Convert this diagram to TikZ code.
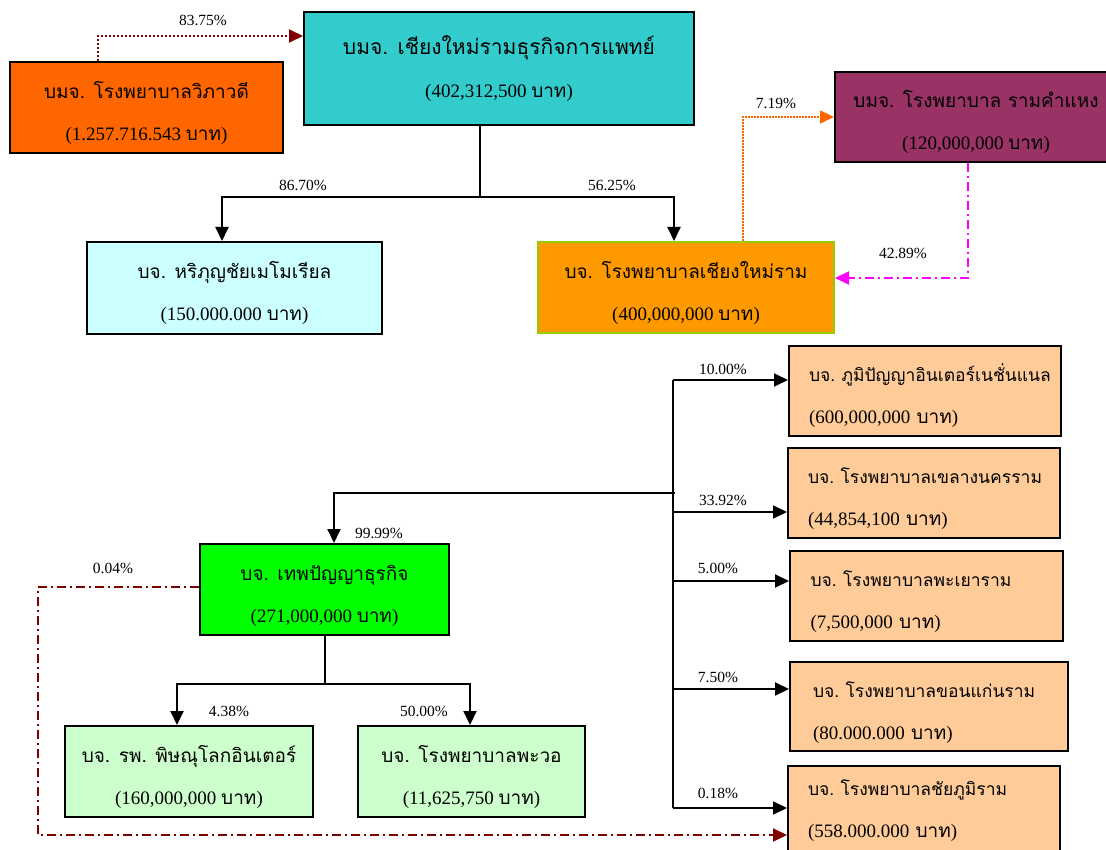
\documentclass[tikz,border=0pt]{standalone}
\usepackage{fontspec}
\setmainfont{Liberation Serif}
\newfontfamily\thaifont[Script=Thai]{Loma}
\usetikzlibrary{arrows.meta,calc}
\newcommand{\thtxt}[1]{{\thaifont #1}}
\newcommand{\thsm}[1]{{\thaifont\fontsize{17.5}{42}\selectfont #1}}
\newcommand{\lift}{\rule{0pt}{28pt}}
\definecolor{cVib}{HTML}{FF6600}
\definecolor{cCyan}{HTML}{33CCCC}
\definecolor{cPurp}{HTML}{993366}
\definecolor{cHari}{HTML}{CCFFFF}
\definecolor{cOrg}{HTML}{FF9900}
\definecolor{cOrgB}{HTML}{99CC00}
\definecolor{cPeach}{HTML}{FFCC99}
\definecolor{cGreen}{HTML}{00FF00}
\definecolor{cLGreen}{HTML}{CCFFCC}
\definecolor{cDRed}{HTML}{800000}
\definecolor{cMag}{HTML}{FF00FF}
\begin{document}
\begin{tikzpicture}[x=1pt,y=-1pt,
  box/.style={draw=black, line width=2pt, inner sep=0pt, align=center, anchor=north west,
    font=\fontsize{19}{42}\selectfont},
  rbox/.style={box, align=left, inner xsep=20pt, text width=232pt, fill=cPeach},
  pct/.style={font=\fontsize{15.5}{15.5}\selectfont, inner sep=0pt},
  tip/.style={-{Triangle[length=14pt,width=13pt]}},
  conn/.style={draw=black, line width=2pt},
  dotred/.style={draw=cDRed, line width=2pt, dash pattern=on 2pt off 2pt, tip},
  dotorg/.style={draw=cVib, line width=1.5pt, dash pattern=on 1.5pt off 1.5pt, tip},
  dashmag/.style={draw=cMag, line width=2pt, dash pattern=on 9pt off 4pt on 2pt off 4pt, tip},
  dashred/.style={draw=cDRed, line width=2pt, dash pattern=on 9pt off 4pt on 2pt off 4pt, tip}
]
\useasboundingbox (0,0) rectangle (1106,850);
\fill[white] (0,0) rectangle (1106,850);

% boxes
\node[box, fill=cVib, minimum width=273pt, minimum height=91pt] (vib) at (9,61)
  {\lift\thtxt{บมจ. โรงพยาบาลวิภาวดี}\\(1.257.716.543 \thtxt{บาท})};
\node[box, fill=cCyan, minimum width=390pt, minimum height=113pt, font=\fontsize{19}{43}\selectfont] (cmb) at (303,11)
  {{\thaifont\fontsize{21}{43}\selectfont บมจ. เชียงใหม่รามธุรกิจการแพทย์}\\(402,312,500 \thtxt{บาท})};
\node[box, fill=cPurp, minimum width=282pt, minimum height=90pt] (rkh) at (834,71)
  {\lift\thtxt{บมจ. โรงพยาบาล รามคำแหง}\\(120,000,000 \thtxt{บาท})};
\node[box, fill=cHari, minimum width=295pt, minimum height=92pt] (hari) at (86,241)
  {\lift\thtxt{บจ. หริภุญชัยเมโมเรียล}\\(150.000.000 \thtxt{บาท})};
\node[box, draw=cOrgB, fill=cOrg, minimum width=296pt, minimum height=91pt] (cmr) at (537,241)
  {\lift\thtxt{บจ. โรงพยาบาลเชียงใหม่ราม}\\(400,000,000 \thtxt{บาท})};
\node[box, fill=cGreen, minimum width=249pt, minimum height=91pt] (tep) at (199,543)
  {\lift\thtxt{บจ. เทพปัญญาธุรกิจ}\\(271,000,000 \thtxt{บาท})};
\node[box, fill=cLGreen, minimum width=248pt, minimum height=91pt] (pit) at (64,725)
  {\lift\thtxt{บจ. รพ. พิษณุโลกอินเตอร์}\\(160,000,000 \thtxt{บาท})};
\node[box, fill=cLGreen, minimum width=227pt, minimum height=91pt] (paw) at (357,725)
  {\lift\thtxt{บจ. โรงพยาบาลพะวอ}\\(11,625,750 \thtxt{บาท})};
\node[rbox, minimum width=272pt, minimum height=90pt] (r1) at (788,345)
  {\lift\thsm{บจ.~ภูมิปัญญาอินเตอร์เนชั่นแนล}\\(600,000,000 \thtxt{บาท})};
\node[rbox, minimum width=272pt, minimum height=90pt] (r2) at (787,447)
  {\lift\thsm{บจ.~โรงพยาบาลเขลางนครราม}\\(44,854,100 \thtxt{บาท})};
\node[rbox, minimum width=273pt, minimum height=90pt] (r3) at (789,550)
  {\lift\thsm{บจ.~โรงพยาบาลพะเยาราม}\\(7,500,000 \thtxt{บาท})};
\node[rbox, minimum width=278pt, minimum height=89pt] (r4) at (789,661)
  {\lift\thsm{บจ.~โรงพยาบาลขอนแก่นราม}\\(80.000.000 \thtxt{บาท})};
\node[rbox, minimum width=272pt, minimum height=90pt] (r5) at (787,765)
  {\thsm{บจ.~โรงพยาบาลชัยภูมิราม}\\(558.000.000 \thtxt{บาท})};

% junction coordinates
\coordinate (j1) at (480,197);
\coordinate (h) at (675,493);
\coordinate (v1) at (673,380);
\coordinate (v2) at (673,512);
\coordinate (v3) at (673,581);
\coordinate (v4) at (673,689);
\coordinate (v5) at (673,808);
\coordinate (j2) at (325,684);
\coordinate (c1) at (38,835);

% connectors
\draw[dotred] ($(vib.north west)+(89,0)$) |- ($(cmb.north west)+(0,25)$);
\draw[conn] (cmb.south -| j1) -- (j1);
\draw[conn,tip] (j1) -| ($(hari.north west)+(136,0)$);
\draw[conn,tip] (j1) -| ($(cmr.north west)+(137,0)$);
\draw[dotorg] ($(cmr.north west)+(206,0)$) |- ($(rkh.north west)+(0,46)$);
\draw[dashmag] ($(rkh.south west)+(134,0)$) |- ($(cmr.north east)+(0,37)$);

\draw[conn] (v1) -- (v5);
\draw[conn,tip] (v1) -- (v1 -| r1.west);
\draw[conn,tip] (v2) -- (v2 -| r2.west);
\draw[conn,tip] (v3) -- (v3 -| r3.west);
\draw[conn,tip] (v4) -- (v4 -| r4.west);
\draw[conn,tip] (v5) -- (v5 -| r5.west);
\draw[conn,tip] (h) -| ($(tep.north west)+(135,0)$);

\draw[conn] (tep.south -| j2) -- (j2);
\draw[conn,tip] (j2) -| ($(pit.north west)+(113,0)$);
\draw[conn,tip] (j2) -| ($(paw.north west)+(113,0)$);
\draw[dashred] ($(tep.north west)+(0,44)$) -| (c1) -- (c1 -| r5.west);

% labels
\node[pct] (l1) at (203,20) {83.75\%};
\node[pct] (l2) at (303,185) {86.70\%};
\node[pct] (l3) at (612,185) {56.25\%};
\node[pct] (l4) at (776,103) {7.19\%};
\node[pct] (l5) at (903,253) {42.89\%};
\node[pct] (l6) at (723,369) {10.00\%};
\node[pct] (l7) at (723,500) {33.92\%};
\node[pct] (l8) at (718,568) {5.00\%};
\node[pct] (l9) at (718,677) {7.50\%};
\node[pct] (l10) at (718,793) {0.18\%};
\node[pct] (l11) at (379,533) {99.99\%};
\node[pct] (l12) at (113,568) {0.04\%};
\node[pct] (l13) at (229,711) {4.38\%};
\node[pct] (l14) at (424,711) {50.00\%};
\end{tikzpicture}
\end{document}
